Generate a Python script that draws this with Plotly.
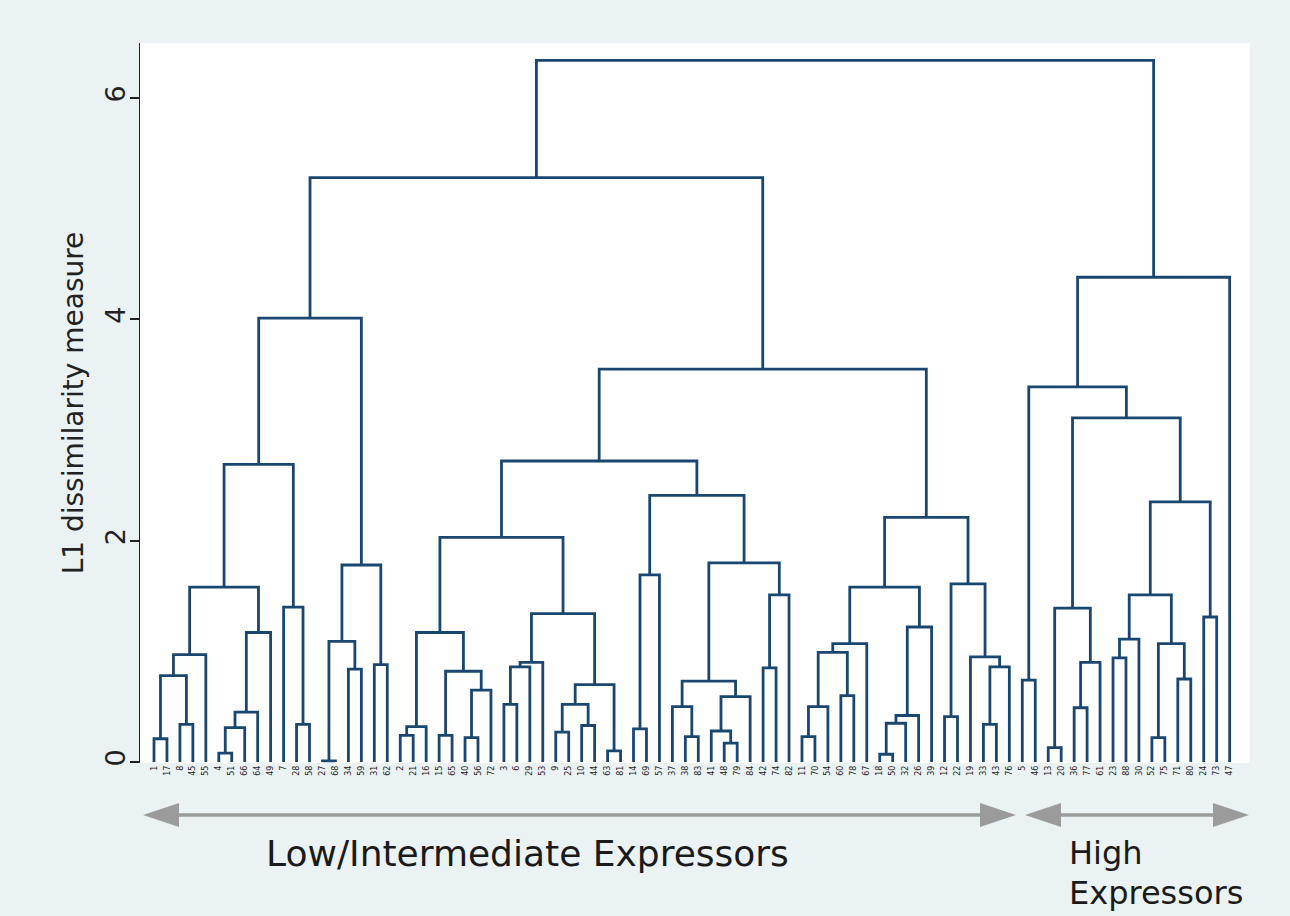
import plotly.graph_objects as go

# ---------------- data ----------------
leaf_labels = ["1", "17", "8", "45", "55", "4", "51", "66", "64", "49",
               "7", "28", "58", "27", "68", "34", "59", "31", "62", "2",
               "21", "16", "15", "65", "40", "56", "72", "3", "6", "29",
               "53", "9", "25", "10", "44", "63", "81", "14", "69", "57",
               "37", "38", "83", "41", "48", "79", "84", "42", "74", "82",
               "11", "70", "54", "60", "78", "67", "18", "50", "32", "26",
               "39", "12", "22", "19", "33", "43", "76", "5", "46", "13",
               "20", "36", "77", "61", "23", "88", "30", "52", "75", "71",
               "80", "24", "73", "47"]

# merges: (node name, left child, right child, dissimilarity)
# children are leaf positions (int) or earlier node names (str)
merges = [
    ("m1", 0, 1, 0.21), ("m2", 2, 3, 0.34), ("m3", "m1", "m2", 0.78),
    ("m4", "m3", 4, 0.97), ("m5", 5, 6, 0.08), ("m6", "m5", 7, 0.31),
    ("m7", "m6", 8, 0.45), ("m8", "m7", 9, 1.17), ("m9", "m4", "m8", 1.58),
    ("m10", 11, 12, 0.34), ("m11", 10, "m10", 1.40), ("m12", "m9", "m11", 2.69),
    ("m13", 13, 14, 0.01), ("m14", 15, 16, 0.84), ("m15", "m13", "m14", 1.09),
    ("m16", 17, 18, 0.88), ("m17", "m15", "m16", 1.78), ("m18", "m12", "m17", 4.01),
    ("m19", 19, 20, 0.24), ("m20", "m19", 21, 0.32), ("m21", 22, 23, 0.24),
    ("m22", 24, 25, 0.22), ("m23", "m22", 26, 0.65), ("m24", "m21", "m23", 0.82),
    ("m25", "m20", "m24", 1.17), ("m26", 27, 28, 0.52), ("m27", "m26", 29, 0.86),
    ("m28", "m27", 30, 0.90), ("m29", 31, 32, 0.27), ("m30", 33, 34, 0.33),
    ("m31", "m29", "m30", 0.52), ("m32", 35, 36, 0.10), ("m33", "m31", "m32", 0.70),
    ("m34", "m28", "m33", 1.34), ("m35", "m25", "m34", 2.03), ("m36", 37, 38, 0.30),
    ("m37", "m36", 39, 1.69), ("m38", 41, 42, 0.23), ("m39", 40, "m38", 0.50),
    ("m40", 44, 45, 0.17), ("m41", 43, "m40", 0.28), ("m42", "m41", 46, 0.59),
    ("m43", "m39", "m42", 0.73), ("m44", 47, 48, 0.85), ("m45", "m44", 49, 1.51),
    ("m46", "m43", "m45", 1.80), ("m47", "m37", "m46", 2.41), ("m48", "m35", "m47", 2.72),
    ("m49", 50, 51, 0.23), ("m50", "m49", 52, 0.50), ("m51", 53, 54, 0.60),
    ("m52", "m50", "m51", 0.99), ("m53", "m52", 55, 1.07), ("m54", 56, 57, 0.07),
    ("m55", "m54", 58, 0.35), ("m56", "m55", 59, 0.42), ("m57", "m56", 60, 1.22),
    ("m58", "m53", "m57", 1.58), ("m59", 61, 62, 0.41), ("m60", 64, 65, 0.34),
    ("m61", "m60", 66, 0.86), ("m62", 63, "m61", 0.95), ("m63", "m59", "m62", 1.61),
    ("m64", "m58", "m63", 2.21), ("m65", "m48", "m64", 3.55), ("m66", "m18", "m65", 5.28),
    ("m67", 67, 68, 0.74), ("m68", 69, 70, 0.13), ("m69", 71, 72, 0.49),
    ("m70", "m69", 73, 0.90), ("m71", "m68", "m70", 1.39), ("m72", 74, 75, 0.94),
    ("m73", "m72", 76, 1.11), ("m74", 77, 78, 0.22), ("m75", 79, 80, 0.75),
    ("m76", "m74", "m75", 1.07), ("m77", "m73", "m76", 1.51), ("m78", 81, 82, 1.31),
    ("m79", "m77", "m78", 2.35), ("m80", "m71", "m79", 3.11), ("m81", "m67", "m80", 3.39),
    ("m82", "m81", 83, 4.38), ("m83", "m66", "m82", 6.34),
]

y_ticks = [0, 2, 4, 6]
group_low = "Low/Intermediate Expressors"
group_high = ["High", "Expressors"]

# ---------------- build dendrogram links ----------------
pos = {}
hgt = {}
for i in range(len(leaf_labels)):
    pos[i] = float(i)
    hgt[i] = 0.0

xs, ys = [], []
for name, a, b, h in merges:
    xa, xb = pos[a], pos[b]
    xs += [xa, xa, xb, xb, None]
    ys += [hgt[a], h, h, hgt[b], None]
    pos[name] = (xa + xb) / 2.0
    hgt[name] = h

NAVY = "#1A476F"
fig = go.Figure()
fig.add_trace(go.Scatter(x=xs, y=ys, mode="lines",
                         line=dict(color=NAVY, width=2.8),
                         hoverinfo="skip", showlegend=False))

# geometry helpers (plot area 140..1250 px, 43..763 px)
L, R, T, B = 140, 1250, 43, 763
xmin, xmax = -1.08, 84.57
ymin, ymax = (762 - B) / 110.67, (762 - T) / 110.67

def px_x(p):
    return (p - L) / (R - L)

def px_y(p):
    return (B - p) / (B - T)

# arrows (grey, double headed)
GREY = "#9B9B9B"
shapes = []
def arrow(x0, x1, y, head=36, half=12):
    yy = px_y(y)
    hh = half / (B - T)
    shapes.append(dict(type="line", xref="paper", yref="paper",
                       x0=px_x(x0 + head - 2), x1=px_x(x1 - head + 2), y0=yy, y1=yy,
                       line=dict(color=GREY, width=3.5)))
    shapes.append(dict(type="path", xref="paper", yref="paper",
                       path=f"M {px_x(x0)} {yy} L {px_x(x0 + head)} {yy + hh} L {px_x(x0 + head)} {yy - hh} Z",
                       fillcolor=GREY, line=dict(width=0)))
    shapes.append(dict(type="path", xref="paper", yref="paper",
                       path=f"M {px_x(x1)} {yy} L {px_x(x1 - head)} {yy + hh} L {px_x(x1 - head)} {yy - hh} Z",
                       fillcolor=GREY, line=dict(width=0)))

arrow(143, 1016, 815)
arrow(1025, 1249, 815)

TXT = "#1a1a1a"
annotations = [
    dict(text=group_low, xref="paper", yref="paper",
         x=px_x(527), y=px_y(853), xanchor="center", yanchor="middle",
         showarrow=False, font=dict(family="DejaVu Sans", size=36, color=TXT)),
    dict(text=group_high[0], xref="paper", yref="paper",
         x=px_x(1067), y=px_y(853), xanchor="left", yanchor="middle", align="left",
         showarrow=False, font=dict(family="DejaVu Sans", size=32, color=TXT)),
    dict(text=group_high[1], xref="paper", yref="paper",
         x=px_x(1067), y=px_y(893), xanchor="left", yanchor="middle", align="left",
         showarrow=False, font=dict(family="DejaVu Sans", size=32, color=TXT)),
]

fig.update_layout(
    width=1290, height=916,
    margin=dict(l=L, r=1290 - R, t=T, b=916 - B, pad=0),
    paper_bgcolor="#EAF2F3",
    plot_bgcolor="#FFFFFF",
    font=dict(family="DejaVu Sans", color="#222222"),
    shapes=shapes,
    annotations=annotations,
    xaxis=dict(range=[xmin, xmax], tickmode="array",
               tickvals=list(range(len(leaf_labels))), ticktext=leaf_labels,
               tickangle=-90, tickfont=dict(size=8, color="#222222"),
               ticks="", showgrid=False, zeroline=False, showline=False,
               fixedrange=True),
    yaxis=dict(range=[ymin, ymax], tickmode="array", tickvals=y_ticks,
               ticktext=[str(v) for v in y_ticks], tickangle=-90,
               tickfont=dict(size=27, color="#222222"),
               ticks="outside", ticklen=9, tickwidth=1.5, tickcolor="#222222",
               ticklabelstandoff=-6,
               showline=True, linecolor="#222222", linewidth=1.2,
               showgrid=False, zeroline=False,
               title=dict(text="L1 dissimilarity measure", standoff=8,
                          font=dict(size=28, color="#222222")),
               fixedrange=True),
)

fig.write_html("out.html", config={"displayModeBar": False},
               post_script="document.body.style.margin='0px';document.body.style.padding='0px';")
